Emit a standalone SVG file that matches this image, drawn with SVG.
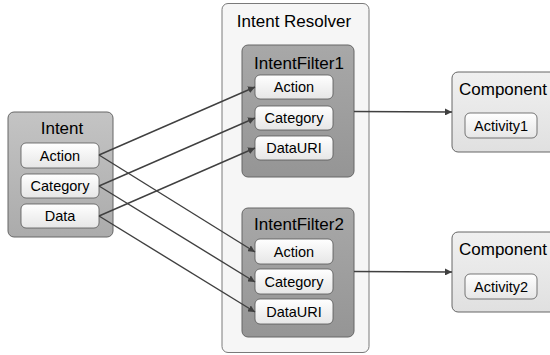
<svg xmlns="http://www.w3.org/2000/svg" width="550" height="355" viewBox="0 0 550 355">
<defs>
<linearGradient id="gItem" x1="0" y1="0" x2="0" y2="1"><stop offset="0" stop-color="#ffffff"/><stop offset="1" stop-color="#e6e6e6"/></linearGradient>
<linearGradient id="gIntent" x1="0" y1="0" x2="0" y2="1"><stop offset="0" stop-color="#c4c4c4"/><stop offset="1" stop-color="#ababab"/></linearGradient>
<linearGradient id="gFilter" x1="0" y1="0" x2="0" y2="1"><stop offset="0" stop-color="#a8a8a8"/><stop offset="1" stop-color="#959595"/></linearGradient>
<linearGradient id="gComp" x1="0" y1="0" x2="0" y2="1"><stop offset="0" stop-color="#f0f0f0"/><stop offset="1" stop-color="#e0e0e0"/></linearGradient>
<marker id="arr" viewBox="0 0 10 10" refX="10" refY="5" markerWidth="7" markerHeight="7" markerUnits="userSpaceOnUse" orient="auto"><path d="M0,0 L10,5 L0,10 z" fill="#404040"/></marker>
</defs>
<style>
text{font-family:"Liberation Sans",Arial,sans-serif;fill:#000;text-anchor:middle;dominant-baseline:central}
.t{font-size:17px}
.i{font-size:14.5px}
.item{fill:url(#gItem);stroke:#555;stroke-width:0.8}
.conn{stroke:#404040;stroke-width:1.4;fill:none;marker-end:url(#arr)}
</style>
<g id="intent-resolver">
<rect x="222" y="3.5" width="147" height="349" rx="6" fill="#f6f6f6" stroke="#7a7a7a" stroke-width="1"/>
<text class="t" x="294" y="21">Intent Resolver</text>
</g>
<g id="intent">
<rect x="8" y="112" width="105" height="125" rx="6" fill="url(#gIntent)" stroke="#666" stroke-width="1"/>
<text class="t" x="62" y="128">Intent</text>
<rect class="item" x="21" y="143" width="78" height="25" rx="5"/><text class="i" x="60" y="155.5">Action</text>
<rect class="item" x="21" y="174" width="78" height="24" rx="5"/><text class="i" x="60" y="186">Category</text>
<rect class="item" x="21" y="204" width="78" height="24" rx="5"/><text class="i" x="60" y="216">Data</text>
</g>
<g id="intentfilter1">
<rect x="242" y="45" width="112" height="132" rx="6" fill="url(#gFilter)" stroke="#666" stroke-width="1"/>
<text class="t" x="299" y="63">IntentFilter1</text>
<rect class="item" x="255" y="75" width="78" height="24" rx="5"/><text class="i" x="294" y="87">Action</text>
<rect class="item" x="255" y="106" width="78" height="24" rx="5"/><text class="i" x="294" y="118">Category</text>
<rect class="item" x="255" y="136" width="78" height="24" rx="5"/><text class="i" x="294" y="148">DataURI</text>
</g>
<g id="intentfilter2">
<rect x="242" y="208" width="112" height="129" rx="6" fill="url(#gFilter)" stroke="#666" stroke-width="1"/>
<text class="t" x="299" y="224">IntentFilter2</text>
<rect class="item" x="255" y="239" width="78" height="25" rx="5"/><text class="i" x="294" y="251.5">Action</text>
<rect class="item" x="255" y="269" width="78" height="25" rx="5"/><text class="i" x="294" y="281.5">Category</text>
<rect class="item" x="255" y="299" width="78" height="25" rx="5"/><text class="i" x="294" y="311.5">DataURI</text>
</g>
<g id="component1">
<rect x="452" y="72" width="110" height="80" rx="6" fill="url(#gComp)" stroke="#666" stroke-width="1"/>
<text class="t" x="459" y="89" style="text-anchor:start">Component</text>
<rect class="item" x="465" y="113" width="72" height="25" rx="5"/><text class="i" x="501" y="125.5">Activity1</text>
</g>
<g id="component2">
<rect x="452" y="232" width="110" height="80" rx="6" fill="url(#gComp)" stroke="#666" stroke-width="1"/>
<text class="t" x="459" y="249" style="text-anchor:start">Component</text>
<rect class="item" x="465" y="274" width="72" height="25" rx="5"/><text class="i" x="501" y="286.5">Activity2</text>
</g>
<g id="connectors">
<line class="conn" x1="99" y1="155" x2="255" y2="87"/>
<line class="conn" x1="99" y1="155" x2="255" y2="252"/>
<line class="conn" x1="99" y1="186" x2="255" y2="118"/>
<line class="conn" x1="99" y1="186" x2="255" y2="282"/>
<line class="conn" x1="99" y1="216" x2="255" y2="148"/>
<line class="conn" x1="99" y1="216" x2="255" y2="312"/>
<line class="conn" x1="354" y1="111.5" x2="452" y2="112"/>
<line class="conn" x1="354" y1="271.5" x2="452" y2="272"/>
</g>
</svg>
